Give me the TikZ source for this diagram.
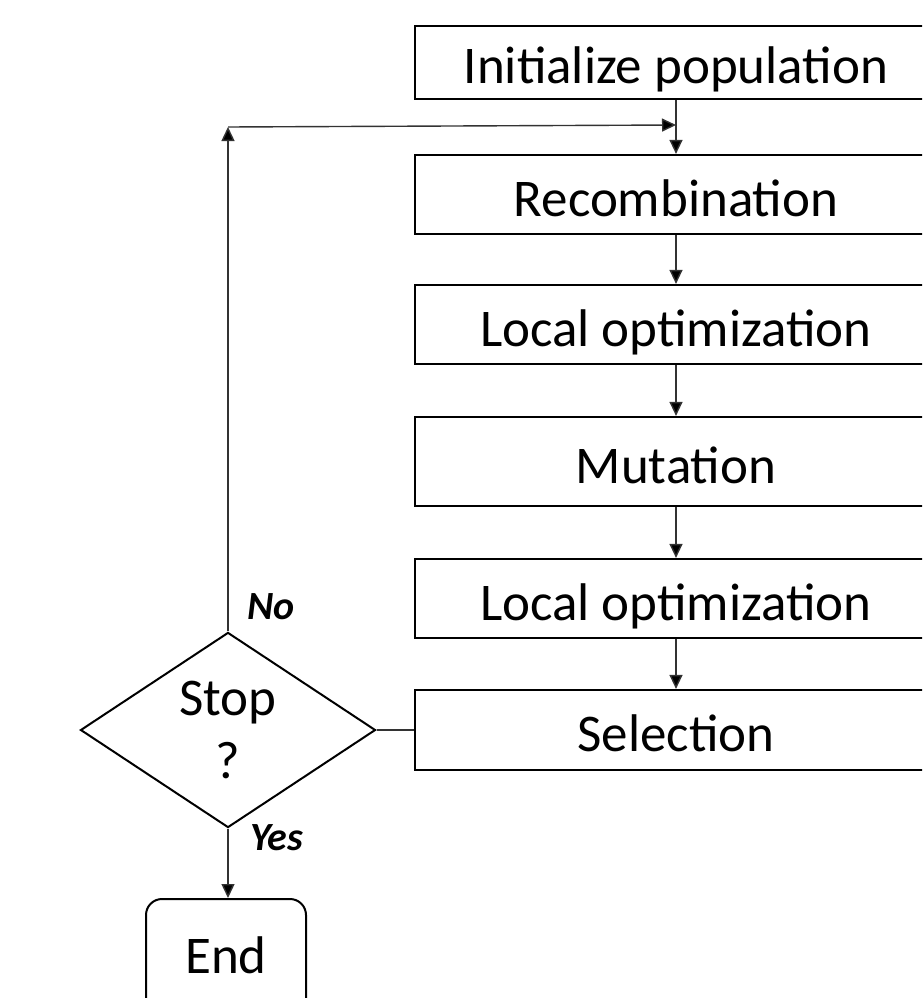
\documentclass[tikz,border=0pt]{standalone}
\usepackage{fontspec}
\setmainfont{Carlito}
\usetikzlibrary{shapes.geometric,arrows.meta}
\begin{document}
\begin{tikzpicture}[x=1pt,y=-1pt,
  txt/.style={font=\fontsize{53}{63}\selectfont},
  box/.style={txt,draw=black,line width=2.2pt,minimum width=522pt,inner sep=0pt,
    text height=44pt,text depth=1pt},
  dec/.style={txt,draw=black,line width=2pt,shape=diamond,minimum width=295pt,
    minimum height=184pt,inner sep=0pt,align=center},
  term/.style={txt,draw=black,line width=2pt,rounded corners=16pt,minimum width=160pt,
    minimum height=118pt,inner sep=0pt,text height=32pt,text depth=2pt},
  conn/.style={line width=1.4pt,draw=black!80},
  arr/.style={conn,-{Triangle[length=14pt,width=13pt,fill=black]}},
  lbl/.style={font=\fontsize{40}{44}\selectfont\bfseries\itshape,anchor=base west,inner sep=0pt}]
\useasboundingbox (0,0) rectangle (922,998);
\clip (0,0) rectangle (922,998);
\node[box,minimum height=73pt] (init) at (676,62.5) {Initialize population};
\node[box,minimum height=79pt] (rec) at (676,194.5) {Recombination};
\node[box,minimum height=79pt] (lo1) at (676,324.5) {Local optimization};
\node[box,minimum height=89pt] (mut) at (676,461.5) {Mutation};
\node[box,minimum height=79pt] (lo2) at (676,598.5) {Local optimization};
\node[box,minimum height=80pt] (sel) at (676,730) {Selection};
\node[dec] (stop) at (228,730) {Stop\\?};
\node[term] (end) at (226,958) {End};
\coordinate (corner) at (228,127);
\coordinate (join) at (676,125);
\draw[arr] (init.south) -- (rec.north);
\draw[arr] (rec.south) -- (lo1.north);
\draw[arr] (lo1.south) -- (mut.north);
\draw[arr] (mut.south) -- (lo2.north);
\draw[arr] (lo2.south) -- (sel.north);
\draw[conn] (sel.west) -- (stop.east);
\draw[arr] (stop.north) -- (corner);
\draw[arr] (corner) -- (join);
\draw[arr] (stop.south) -- (stop.south |- end.north);
\node[lbl] (no) at (247,619) {No};
\node[lbl] (yes) at (250,850) {Yes};
\end{tikzpicture}
\end{document}
